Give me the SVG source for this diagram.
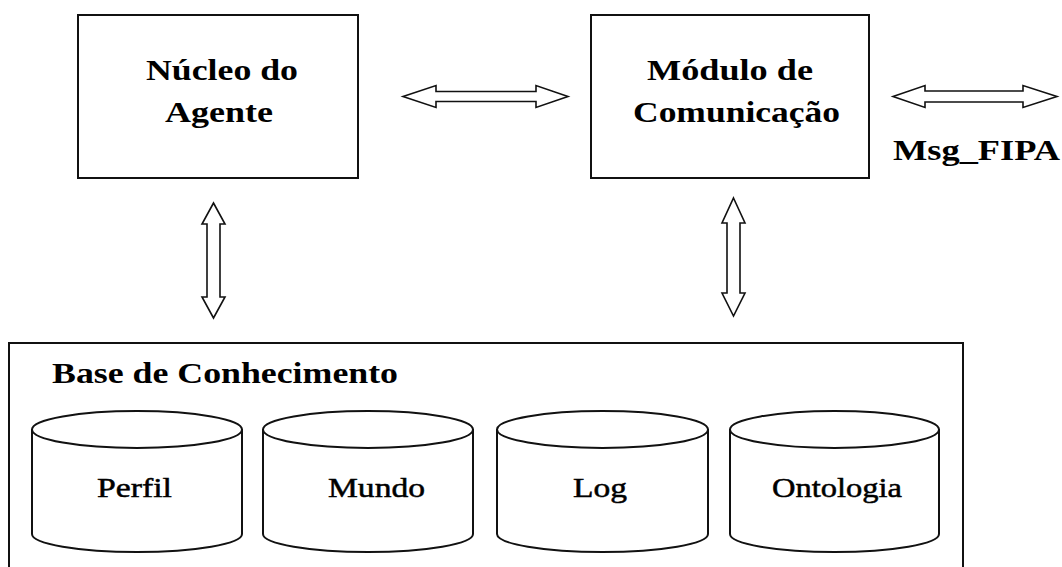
<svg xmlns="http://www.w3.org/2000/svg" width="1062" height="567" viewBox="0 0 1062 567">
<style>
.box{fill:#fff;stroke:#111;stroke-width:2}
.arrow{fill:#fff;stroke:#111;stroke-width:1.6;stroke-linejoin:miter}
.t{font-family:"Liberation Serif","Times New Roman",serif;font-weight:bold;font-size:30px;fill:#000}
.c{font-family:"Liberation Serif","Times New Roman",serif;font-size:28px;fill:#000;stroke:#000;stroke-width:0.5}
.cyl{fill:#fff;stroke:#111;stroke-width:2}
</style>
<rect width="1062" height="567" fill="#fff"/>
<g id="nucleo">
<rect class="box" x="78" y="15" width="280" height="163"/>
<text class="t" x="222" y="80" text-anchor="middle" textLength="152" lengthAdjust="spacingAndGlyphs">Núcleo do</text>
<text class="t" x="219" y="122" text-anchor="middle" textLength="108" lengthAdjust="spacingAndGlyphs">Agente</text>
</g>
<g id="modulo">
<rect class="box" x="591" y="15" width="278" height="163"/>
<text class="t" x="730" y="80" text-anchor="middle" textLength="166" lengthAdjust="spacingAndGlyphs">Módulo de</text>
<text class="t" x="736.5" y="122" text-anchor="middle" textLength="207" lengthAdjust="spacingAndGlyphs">Comunicação</text>
</g>
<g id="msgfipa">
<text class="t" x="893" y="160" textLength="167" lengthAdjust="spacingAndGlyphs">Msg_FIPA</text>
</g>
<g id="base">
<rect class="box" x="9" y="343" width="954" height="230"/>
<text class="t" x="52" y="383" textLength="346" lengthAdjust="spacingAndGlyphs">Base de Conhecimento</text>
</g>
<g id="perfil">
<path class="cyl" d="M32,429 V534 A105,18 0 0 0 242,534 V429"/>
<ellipse class="cyl" cx="137" cy="429.5" rx="105" ry="18.5"/>
<text class="c" x="134.5" y="497" text-anchor="middle" textLength="75" lengthAdjust="spacingAndGlyphs">Perfil</text>
</g>
<g id="mundo">
<path class="cyl" d="M263,429 V534 A105,18 0 0 0 473,534 V429"/>
<ellipse class="cyl" cx="368" cy="429.5" rx="105" ry="18.5"/>
<text class="c" x="376.5" y="497" text-anchor="middle" textLength="97" lengthAdjust="spacingAndGlyphs">Mundo</text>
</g>
<g id="log">
<path class="cyl" d="M497,429 V534 A105.5,18 0 0 0 708,534 V429"/>
<ellipse class="cyl" cx="602.5" cy="429.5" rx="105.5" ry="18.5"/>
<text class="c" x="600" y="497" text-anchor="middle" textLength="54" lengthAdjust="spacingAndGlyphs">Log</text>
</g>
<g id="ontologia">
<path class="cyl" d="M730,429 V534 A104.5,18 0 0 0 939,534 V429"/>
<ellipse class="cyl" cx="834.5" cy="429.5" rx="104.5" ry="18.5"/>
<text class="c" x="837" y="497" text-anchor="middle" textLength="130" lengthAdjust="spacingAndGlyphs">Ontologia</text>
</g>
<g id="connectors">
<polygon class="arrow" points="403,96.5 436,85.5 436,91.5 536,91.5 536,85.5 568,96.5 536,107.5 536,101.5 436,101.5 436,107.5"/>
<polygon class="arrow" points="893,96.5 925,85.5 925,91 1023,91 1023,85.5 1057,96.5 1023,107.5 1023,102 925,102 925,107.5"/>
<polygon class="arrow" points="213.5,203 225,224 220,224 220,297 225,297 213.5,318 202,297 207,297 207,224 202,224"/>
<polygon class="arrow" points="733.5,198 745,223 740,223 740,293 745,293 733.5,316 722,293 727,293 727,223 722,223"/>
</g>
</svg>
